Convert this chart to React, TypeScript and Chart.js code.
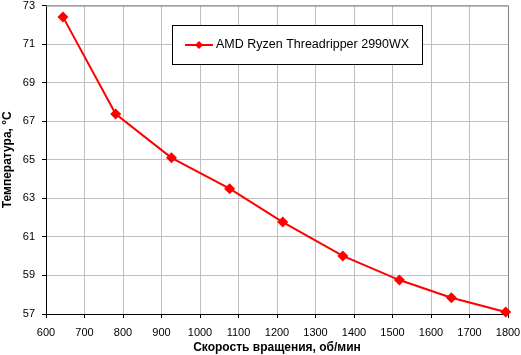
import React, { useEffect, useRef } from "react";
import { Chart, registerables } from "chart.js";

Chart.register(...registerables);

const seriesName = "AMD Ryzen Threadripper 2990WX";
const rpm = [644, 781, 926, 1077, 1215, 1371, 1518, 1653, 1794];
const temps = [72.41, 67.37, 65.1, 63.5, 61.77, 60.01, 58.76, 57.84, 57.1];
const xTitle = "Скорость вращения, об/мин";
const yTitle = "Температура, °C";

const FONT = "'Liberation Sans', Arial, sans-serif";

const boxPlugin = {
  id: "boxPlugin",
  beforeDatasetsDraw(chart: any) {
    const { ctx, chartArea } = chart;
    ctx.save();
    ctx.strokeStyle = "#808080";
    ctx.lineWidth = 1;
    ctx.beginPath();
    ctx.moveTo(chartArea.left, chartArea.top + 0.5);
    ctx.lineTo(chartArea.right + 0.5, chartArea.top + 0.5);
    ctx.lineTo(chartArea.right + 0.5, chartArea.bottom);
    ctx.stroke();
    ctx.restore();
  },
  afterDraw(chart: any) {
    const { ctx } = chart;
    ctx.save();
    const x0 = 172.5, y0 = 25.5, w = 250, h = 39;
    ctx.fillStyle = "#ffffff";
    ctx.fillRect(x0, y0, w, h);
    ctx.strokeStyle = "#000000";
    ctx.lineWidth = 1;
    ctx.strokeRect(x0, y0, w, h);
    const cy = 45;
    ctx.strokeStyle = "#ff0000";
    ctx.lineWidth = 2;
    ctx.beginPath();
    ctx.moveTo(185, cy);
    ctx.lineTo(213, cy);
    ctx.stroke();
    ctx.fillStyle = "#ff0000";
    ctx.beginPath();
    const cx = 199, r = 4;
    ctx.moveTo(cx, cy - r);
    ctx.lineTo(cx + r, cy);
    ctx.lineTo(cx, cy + r);
    ctx.lineTo(cx - r, cy);
    ctx.closePath();
    ctx.fill();
    ctx.fillStyle = "#000000";
    ctx.font = `12.5px ${FONT}`;
    ctx.textBaseline = "middle";
    ctx.textAlign = "left";
    ctx.fillText(seriesName, 216, cy);
    ctx.restore();
  },
};

export default function App() {
  const ref = useRef<HTMLCanvasElement | null>(null);
  useEffect(() => {
    document.body.style.margin = "0";
    const canvas = ref.current;
    if (!canvas) return;
    const chart = new Chart(canvas, {
      type: "line",
      data: {
        datasets: [
          {
            label: seriesName,
            data: rpm.map((x, i) => ({ x, y: temps[i] })),
            borderColor: "#ff0000",
            backgroundColor: "#ff0000",
            borderWidth: 2,
            pointStyle: "rectRot",
            pointRadius: 5.5,
            pointBorderWidth: 0,
            tension: 0,
            clip: false as any,
          },
        ],
      },
      options: {
        responsive: false,
        animation: false,
        devicePixelRatio: 1,
        layout: { padding: { top: 5, right: 13, left: 0, bottom: 0 } },
        plugins: { legend: { display: false }, tooltip: { enabled: false } },
        scales: {
          x: {
            type: "linear",
            min: 600,
            max: 1800,
            ticks: {
              stepSize: 100,
              color: "#000",
              font: { family: FONT, size: 11 },
              padding: 8,
              maxRotation: 0,
              callback: (v: any) => String(v),
            },
            grid: {
              color: "#c0c0c0",
              tickColor: "#000",
              tickLength: 4,
            },
            border: { color: "#000", width: 1 },
            title: {
              display: true,
              text: xTitle,
              color: "#000",
              font: { family: FONT, size: 12, weight: "bold" },
              padding: { top: 0, bottom: 0 },
            },
            afterFit(scale: any) {
              scale.height = 41;
              scale.paddingLeft = 0;
              scale.paddingRight = 0;
            },
          },
          y: {
            type: "linear",
            min: 57,
            max: 73,
            ticks: {
              stepSize: 2,
              color: "#000",
              font: { family: FONT, size: 11 },
              padding: 7,
              callback: (v: any) => String(v),
            },
            grid: {
              color: "#c0c0c0",
              tickColor: "#000",
              tickLength: 4,
            },
            border: { color: "#000", width: 1 },
            title: {
              display: true,
              text: yTitle,
              color: "#000",
              font: { family: FONT, size: 12, weight: "bold" },
              padding: { top: 0, bottom: 0 },
            },
            afterFit(scale: any) {
              scale.width = 46;
              scale.paddingTop = 0;
              scale.paddingBottom = 0;
            },
          },
        },
      },
      plugins: [boxPlugin],
    });
    return () => chart.destroy();
  }, []);
  return <canvas ref={ref} width={521} height={355} style={{ display: "block" }} />;
}
